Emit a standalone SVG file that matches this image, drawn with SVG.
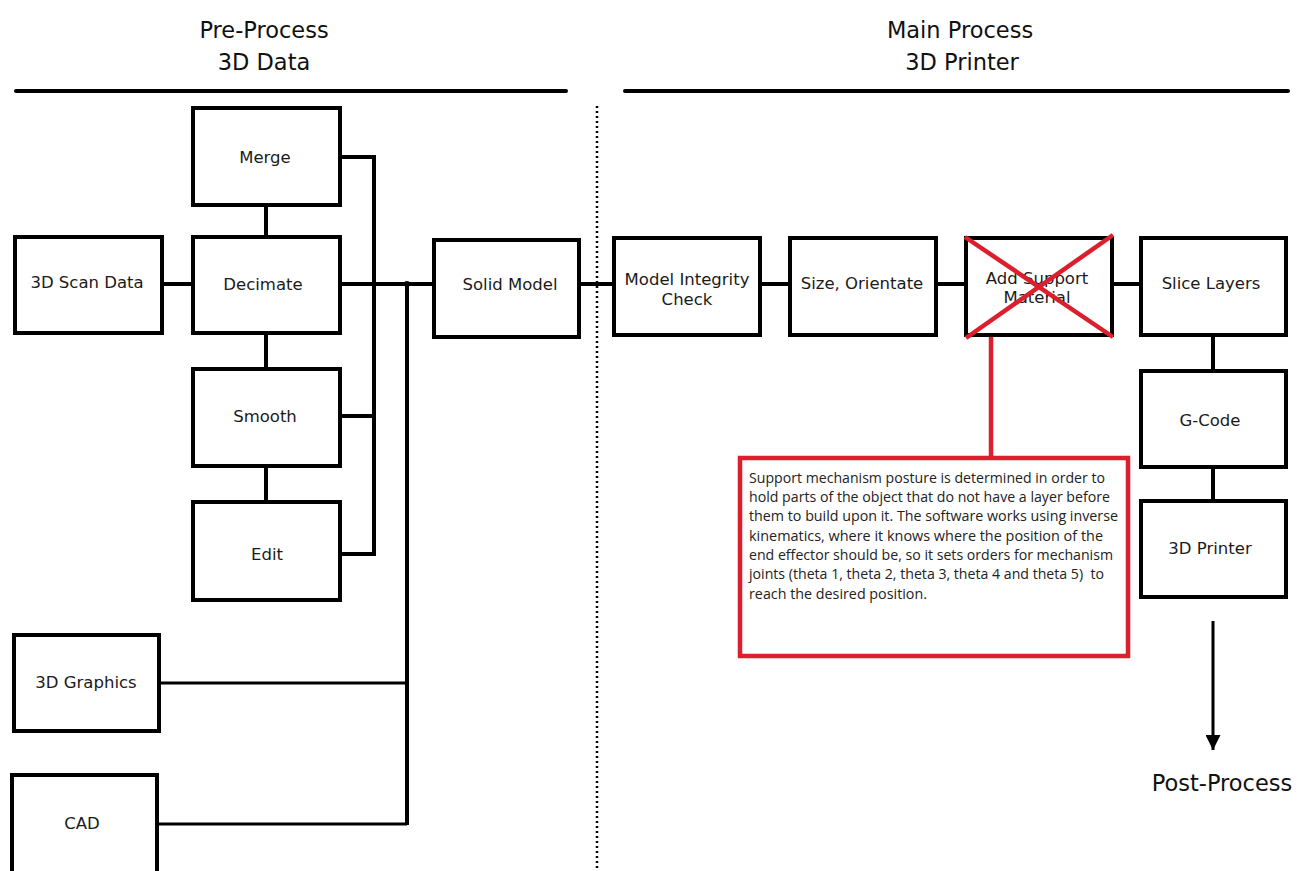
<svg xmlns="http://www.w3.org/2000/svg" width="1298" height="871" viewBox="0 0 1298 871">
<style>
.box{fill:#fff;stroke:#000;stroke-width:4}
.lbl{font-family:"DejaVu Sans",sans-serif;font-size:16.5px;text-anchor:middle;fill:#1a1a1a}
.hdr{font-family:"DejaVu Sans",sans-serif;font-size:22.5px;text-anchor:middle;fill:#111}
.ln{stroke:#000;stroke-width:4;fill:none}
.thin{stroke:#000;stroke-width:3;fill:none}
.red{stroke:#dc1f2c;stroke-width:4.5;fill:none}
.note{font-family:"Open Sans","Liberation Sans",sans-serif;font-size:14px;fill:#222}
</style>
<defs>
<marker id="arr" viewBox="0 0 10 10" refX="10" refY="5" markerWidth="5" markerHeight="5" orient="auto" markerUnits="strokeWidth">
<path d="M0,0 L10,5 L0,10 z" fill="#000"/>
</marker>
</defs>
<rect width="1298" height="871" fill="#fff"/>

<g id="headers">
<text class="hdr" x="264" y="38">Pre-Process</text>
<text class="hdr" x="264" y="70">3D Data</text>
<text class="hdr" x="960" y="38">Main Process</text>
<text class="hdr" x="962" y="70">3D Printer</text>
<line x1="16" y1="91" x2="566" y2="91" stroke="#000" stroke-width="4" stroke-linecap="round"/>
<line x1="625" y1="91" x2="1288" y2="91" stroke="#000" stroke-width="4" stroke-linecap="round"/>
<line x1="597" y1="106" x2="597" y2="871" stroke="#000" stroke-width="2.5" stroke-dasharray="2 3"/>
</g>

<g id="connectors">
<polyline class="ln" points="340,157 374,157 374,554 340,554"/>
<line class="ln" x1="340" y1="416" x2="374" y2="416"/>
<line class="ln" x1="266" y1="205" x2="266" y2="237"/>
<line class="ln" x1="266" y1="333" x2="266" y2="369"/>
<line class="ln" x1="266" y1="466" x2="266" y2="502"/>
<line class="ln" x1="162" y1="284" x2="193" y2="284"/>
<line class="ln" x1="340" y1="284" x2="434" y2="284"/>
<line class="ln" x1="407" y1="284" x2="407" y2="825"/>
<circle cx="407" cy="284" r="3" fill="#000"/>
<line class="thin" x1="159" y1="683" x2="407" y2="683"/>
<line class="thin" x1="157" y1="824" x2="407" y2="824"/>
<line class="ln" x1="579" y1="284" x2="614" y2="284"/>
<line class="ln" x1="760" y1="284" x2="790" y2="284"/>
<line class="ln" x1="936" y1="284" x2="966" y2="284"/>
<line class="ln" x1="1112" y1="284" x2="1141" y2="284"/>
<line class="ln" x1="1213" y1="335" x2="1213" y2="371"/>
<line class="ln" x1="1213" y1="467" x2="1213" y2="501"/>
<line x1="1213" y1="621" x2="1213" y2="750" stroke="#000" stroke-width="3" marker-end="url(#arr)"/>
<line class="red" x1="991" y1="335" x2="991" y2="458"/>
</g>

<g id="merge"><rect class="box" x="193" y="108" width="147" height="97"/><text class="lbl" x="265" y="163">Merge</text></g>
<g id="decimate"><rect class="box" x="193" y="237" width="147" height="96"/><text class="lbl" x="263" y="290">Decimate</text></g>
<g id="scan"><rect class="box" x="15" y="237" width="147" height="96"/><text class="lbl" x="87" y="288">3D Scan Data</text></g>
<g id="smooth"><rect class="box" x="193" y="369" width="147" height="97"/><text class="lbl" x="265" y="422">Smooth</text></g>
<g id="edit"><rect class="box" x="193" y="502" width="147" height="98"/><text class="lbl" x="267" y="560">Edit</text></g>
<g id="solid"><rect class="box" x="434" y="240" width="145" height="97"/><text class="lbl" x="510" y="290">Solid Model</text></g>
<g id="graphics"><rect class="box" x="14" y="635" width="145" height="96"/><text class="lbl" x="86" y="688">3D Graphics</text></g>
<g id="cad"><rect class="box" x="12" y="775" width="145" height="100"/><text class="lbl" x="82" y="829">CAD</text></g>

<g id="integrity"><rect class="box" x="614" y="238" width="146" height="97"/><text class="lbl" x="687" y="285">Model Integrity</text><text class="lbl" x="687" y="305">Check</text></g>
<g id="size"><rect class="box" x="790" y="238" width="146" height="97"/><text class="lbl" x="862" y="289">Size, Orientate</text></g>
<g id="support"><rect class="box" x="966" y="238" width="146" height="97"/><text class="lbl" x="1037" y="284">Add Support</text><text class="lbl" x="1037" y="303">Material</text>
<line class="red" x1="965" y1="237" x2="1113" y2="337"/><line class="red" x1="1113" y1="235" x2="966" y2="338"/></g>
<g id="slice"><rect class="box" x="1141" y="238" width="145" height="97"/><text class="lbl" x="1211" y="289">Slice Layers</text></g>
<g id="gcode"><rect class="box" x="1141" y="371" width="145" height="96"/><text class="lbl" x="1210" y="426">G-Code</text></g>
<g id="printer"><rect class="box" x="1141" y="501" width="145" height="96"/><text class="lbl" x="1210" y="554">3D Printer</text></g>
<g id="post"><text class="hdr" x="1222" y="791">Post-Process</text></g>

<g id="note">
<rect x="740" y="458" width="388" height="198" fill="#fff" stroke="#dc1f2c" stroke-width="4.5"/>
<text class="note" x="749" y="483" textLength="356" lengthAdjust="spacingAndGlyphs">Support mechanism posture is determined in order to</text>
<text class="note" x="749" y="502" textLength="361" lengthAdjust="spacingAndGlyphs">hold parts of the object that do not have a layer before</text>
<text class="note" x="749" y="521" textLength="369" lengthAdjust="spacingAndGlyphs">them to build upon it. The software works using inverse</text>
<text class="note" x="749" y="541" textLength="354" lengthAdjust="spacingAndGlyphs">kinematics, where it knows where the position of the</text>
<text class="note" x="749" y="560" textLength="364" lengthAdjust="spacingAndGlyphs">end effector should be, so it sets orders for mechanism</text>
<text class="note" x="749" y="579" textLength="355" lengthAdjust="spacingAndGlyphs" xml:space="preserve">joints (theta 1, theta 2, theta 3, theta 4 and theta 5)  to</text>
<text class="note" x="749" y="599" textLength="178" lengthAdjust="spacingAndGlyphs">reach the desired position.</text>
</g>
</svg>
